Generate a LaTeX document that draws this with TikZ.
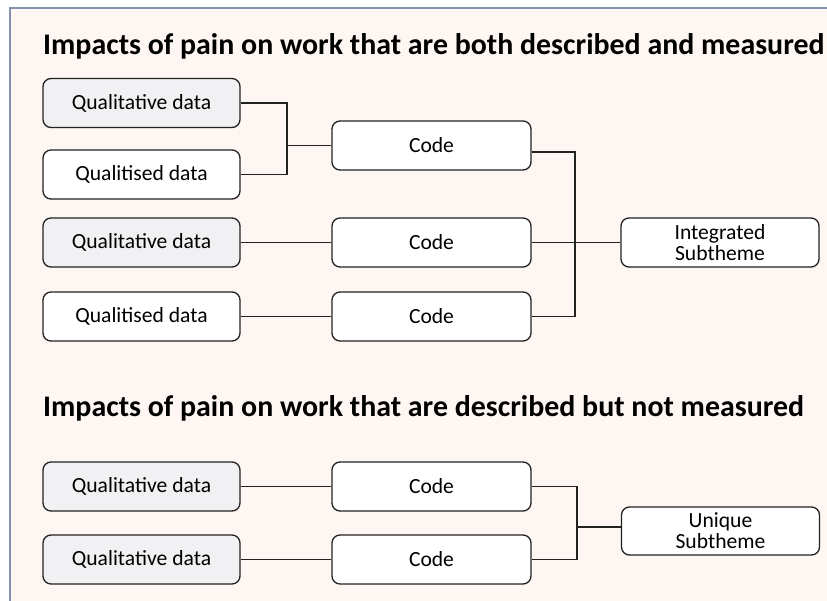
\documentclass[tikz,border=0pt]{standalone}
\usepackage{fontspec}
\setmainfont{Carlito}
\usetikzlibrary{calc}
\definecolor{bgpeach}{HTML}{FDF6F2}
\definecolor{frameblue}{HTML}{8391AE}
\definecolor{qualgray}{HTML}{F1F1F3}
\definecolor{linedark}{HTML}{222222}
\tikzset{
  box/.style={draw=linedark, line width=1.3pt, rounded corners=8pt, minimum width=197pt, minimum height=49pt, inner sep=0pt, font=\fontsize{21.6}{24}\selectfont, align=center},
  qualbox/.style={box, fill=qualgray},
  whitebox/.style={box, fill=white},
  themebox/.style={box, fill=white, font=\fontsize{21.6}{25}\selectfont},
  conn/.style={draw=linedark, line width=1.3pt},
  heading/.style={anchor=base west, inner sep=0pt, font=\fontsize{29.9}{32}\selectfont\bfseries}
}
\begin{document}
\begin{tikzpicture}[x=1pt,y=-1pt]
\useasboundingbox (0,0) rectangle (827,601);
\fill[white] (0,0) rectangle (827,601);
\fill[bgpeach] (10,8) rectangle (827,601);
\draw[frameblue, line width=1.5pt] (10,601) -- (10,8) -- (827,8);

\node[heading] (t1) at (43,55) {Impacts of pain on work that are both described and measured};
\node[heading] (t2) at (43,416) {Impacts of pain on work that are described but not measured};

\node[qualbox] (q1) at (141.5,103) {Qualitative data};
\node[whitebox] (q2) at (141.5,174.5) {Qualitised data};
\node[qualbox] (q3) at (141.5,242.5) {Qualitative data};
\node[whitebox] (q4) at (141.5,316.5) {Qualitised data};

\node[whitebox, minimum width=199pt] (c1) at (431.5,145.5) {Code};
\node[whitebox, minimum width=199pt] (c2) at (431.5,242.5) {Code};
\node[whitebox, minimum width=199pt] (c3) at (431.5,316.5) {Code};

\node[themebox, minimum width=198pt] (int) at (720,242.5) {Integrated\\[-4pt]Subtheme};

\node[qualbox] (q5) at (141.5,486.5) {Qualitative data};
\node[qualbox] (q6) at (141.5,559.5) {Qualitative data};
\node[whitebox, minimum width=199pt] (c4) at (431.5,486.5) {Code};
\node[whitebox, minimum width=199pt] (c5) at (431.5,559.5) {Code};
\node[themebox, minimum width=198pt, minimum height=48pt] (uni) at (720.5,531) {Unique\\[-4pt]Subtheme};

\coordinate (j1) at (287,145.5);
\coordinate (j2) at (575,242.5);
\coordinate (j3) at (577,527);
\coordinate (c1o) at ($(c1.east)+(0,6.5)$);

\draw[conn] (q1.east) -| (j1) |- (q2.east);
\draw[conn] (j1) -- (c1.west);
\draw[conn] (q3.east) -- (c2.west);
\draw[conn] (q4.east) -- (c3.west);
\draw[conn] (c1o) -| (j2) |- (c3.east);
\draw[conn] (c2.east) -- (int.west);

\draw[conn] (q5.east) -- (c4.west);
\draw[conn] (q6.east) -- (c5.west);
\draw[conn] (c4.east) -| (j3) |- (c5.east);
\draw[conn] (j3) -- (j3 -| uni.west);
\end{tikzpicture}
\end{document}
